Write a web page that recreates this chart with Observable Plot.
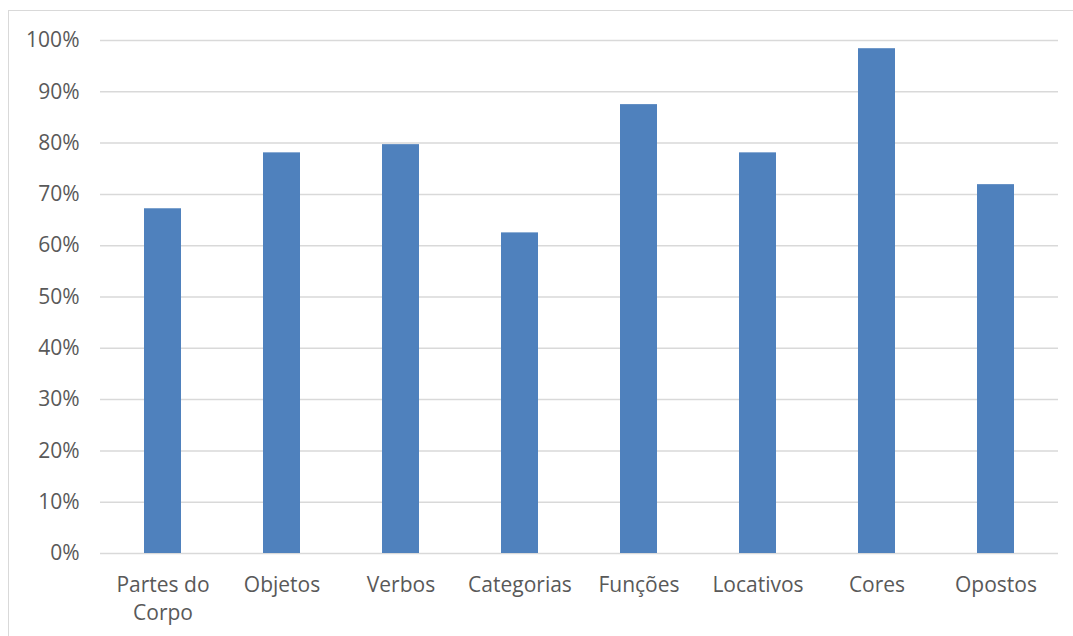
<!DOCTYPE html>
<html>
<head>
<meta charset="utf-8">
<script src="https://cdn.jsdelivr.net/npm/d3@7"></script>
<script src="https://cdn.jsdelivr.net/npm/@observablehq/plot@0.6"></script>
<style>
  html, body { margin: 0; padding: 0; background: #fff; overflow: hidden; }
  #wrap { position: relative; width: 1073px; height: 636px; }
  #border {
    position: absolute; left: 8px; top: 10px; width: 1080px; height: 640px;
    border: 1.5px solid #D9D9D9; box-sizing: border-box;
  }
  #chart { position: absolute; left: 0; top: 0; }
  #chart svg { font-family: "Open Sans", sans-serif; }
</style>
</head>
<body>
<div id="wrap">
  <div id="border"></div>
  <div id="chart"></div>
</div>
<script>
// Share of correct answers per category
const categories = ["Partes do Corpo", "Objetos", "Verbos", "Categorias", "Funções", "Locativos", "Cores", "Opostos"];
const values = [67.2, 78.1, 79.7, 62.5, 87.5, 78.1, 98.4, 71.9];
const yTicks = [0, 10, 20, 30, 40, 50, 60, 70, 80, 90, 100];

const data = categories.map((c, i) => ({category: c, value: values[i]}));

const textColor = "#595959";
const gridColor = "#D9D9D9";

const chart = Plot.plot({
  width: 1073,
  height: 636,
  marginLeft: 100,
  marginRight: 15,
  marginTop: 40,
  marginBottom: 83,
  style: {fontSize: "21px", color: textColor, background: "transparent", overflow: "visible"},
  x: {domain: categories, paddingInner: 0.69, paddingOuter: 0.345, label: null},
  y: {domain: [0, 100], label: null},
  marks: [
    Plot.gridY(yTicks, {stroke: gridColor, strokeOpacity: 1, strokeWidth: 1.5}),
    Plot.barY(data, {x: "category", y: "value", fill: "#4F81BD"}),
    Plot.axisY(yTicks, {
      tickSize: 0, tickPadding: 21, fill: textColor,
      tickFormat: d => d + "%", fontSize: 21
    }),
    Plot.axisX({
      tickSize: 0, tickPadding: 19, fill: textColor, fontSize: 21, lineHeight: 1.33,
      tickFormat: d => d === "Partes do Corpo" ? "Partes do\nCorpo" : d
    })
  ]
});

document.getElementById("chart").appendChild(chart);
</script>
</body>
</html>
